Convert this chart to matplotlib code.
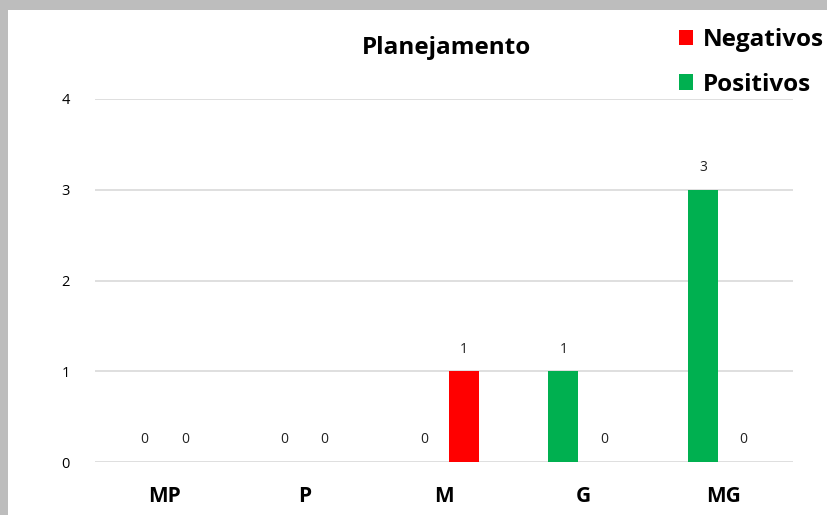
import numpy as np
import matplotlib.pyplot as plt
from matplotlib.patches import Rectangle

categories = ['MP', 'P', 'M', 'G', 'MG']
positivos = [0, 0, 0, 1, 3]
negativos = [0, 0, 1, 0, 0]
yticks = [0, 1, 2, 3, 4]

green = '#00b050'
red = '#ff0000'

fig = plt.figure(figsize=(8.28, 5.15), dpi=100)
fig.patch.set_facecolor('#bdbdbd')
# white chart area inside the grey frame
fig.patches.append(Rectangle((8 / 828, 0), 1, (515 - 10) / 515,
                             transform=fig.transFigure, facecolor='white',
                             edgecolor='none', zorder=-10))

ax = fig.add_axes([95 / 828, (515 - 462) / 515, (793 - 95) / 828, (462 - 99) / 515])
ax.set_facecolor('none')

x = np.arange(len(categories))
off = 0.145
w = 0.215
bp = ax.bar(x - off, positivos, w, color=green, label='Positivos', zorder=3)
bn = ax.bar(x + off, negativos, w, color=red, label='Negativos', zorder=3)

for bars, vals in [(bp, positivos), (bn, negativos)]:
    for b, v in zip(bars, vals):
        ax.annotate(str(v), (b.get_x() + b.get_width() / 2, v),
                    xytext=(0, 10.5), textcoords='offset points',
                    ha='center', va='bottom', fontsize=10,
                    family='Open Sans', color='#222222')

ax.set_xlim(-0.5, len(categories) - 0.5)
ax.set_ylim(0, 4)
ax.set_yticks(yticks)
ax.set_yticklabels([str(t) for t in yticks], family='Open Sans', fontsize=10.5)
ax.set_xticks(x)
ax.set_xticklabels(categories, family='Open Sans', fontweight='bold', fontsize=15)
ax.tick_params(axis='both', length=0)
ax.tick_params(axis='y', pad=18)
ax.tick_params(axis='x', pad=17)
ax.grid(axis='y', color='#d9d9d9', linewidth=1.2, zorder=0)
for s in ax.spines.values():
    s.set_visible(False)

fig.text(447 / 828, 1 - 48 / 515, 'Planejamento', ha='center', va='center',
         family='Open Sans', fontweight='bold', fontsize=17.5)

leg = fig.legend(handles=[bn, bp], labels=['Negativos', 'Positivos'],
                 loc='upper left', bbox_to_anchor=(657 / 828, 1 - 6 / 515),
                 frameon=False, handlelength=0.6, handleheight=0.6,
                 handletextpad=0.4, labelspacing=0.85,
                 prop={'family': 'Open Sans', 'weight': 'bold', 'size': 17.5})

fig.savefig('out.png', dpi=100, facecolor=fig.get_facecolor())
